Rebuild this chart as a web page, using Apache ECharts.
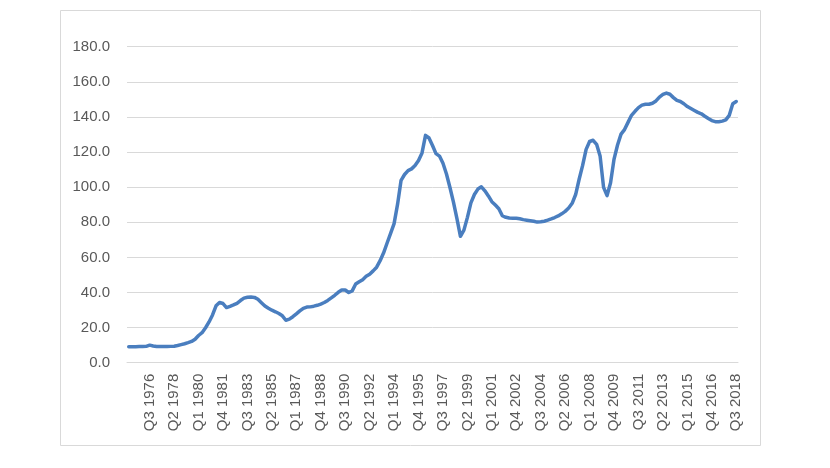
<!DOCTYPE html>
<html>
<head>
<meta charset="utf-8">
<script src="https://cdn.jsdelivr.net/npm/echarts@6/dist/echarts.min.js"></script>
<style>
html,body{margin:0;padding:0;background:#fff;}
#chart{width:830px;height:468px;}
</style>
</head>
<body>
<div id="chart"></div>
<script>
// Quarterly series, Q1 1975 .. Q3 2018
const startYear = 1975;
const startQuarter = 1;
const values = [
  9.1, 9.1, 9.1, 9.2, 9.2, 9.3, 10.0, 9.5, 9.2, 9.2,
  9.2, 9.2, 9.3, 9.4, 9.8, 10.3, 10.8, 11.4, 12.1, 13.4,
  15.5, 17.1, 19.9, 23.2, 27.2, 32.4, 34.3, 33.7, 31.4, 32.1,
  32.9, 33.8, 35.4, 36.8, 37.3, 37.4, 37.2, 36.1, 34.2, 32.3,
  31.0, 29.9, 29.0, 28.0, 26.7, 24.2, 24.8, 26.2, 27.8, 29.5,
  31.0, 31.7, 31.8, 32.2, 32.7, 33.4, 34.3, 35.5, 36.9, 38.4,
  40.1, 41.4, 41.4, 40.0, 40.9, 44.8, 46.1, 47.3, 49.2, 50.4,
  52.3, 54.4, 58.1, 62.6, 68.2, 73.7, 79.2, 90.3, 103.9, 107.2,
  109.4, 110.4, 112.3, 115.2, 119.5, 129.5, 128.0, 123.7, 119.1, 117.7,
  113.6, 107.5, 99.8, 91.5, 82.1, 72.0, 75.5, 82.8, 91.0, 95.8,
  98.9, 100.2, 97.9, 95.0, 91.7, 89.8, 87.7, 83.7, 82.8, 82.4,
  82.3, 82.3, 82.0, 81.5, 81.2, 80.9, 80.6, 80.1, 80.3, 80.6,
  81.2, 81.9, 82.7, 83.6, 84.8, 86.2, 88.1, 90.8, 95.8, 104.5,
  112.4, 121.5, 126.0, 126.7, 124.4, 117.8, 99.9, 95.2, 102.5, 116.0,
  124.0, 130.2, 132.8, 136.9, 140.9, 143.2, 145.3, 146.7, 147.2, 147.2,
  147.8, 149.1, 151.3, 152.8, 153.6, 152.9, 151.0, 149.4, 148.8, 147.5,
  145.9, 144.8, 143.7, 142.6, 141.8, 140.4, 139.1, 137.9, 137.3, 137.3,
  137.6, 138.3, 140.9, 147.5, 148.8
];
const yTicks = [0, 20, 40, 60, 80, 100, 120, 140, 160, 180];
const labelOffset = 6;   // first labelled category (Q3 1976)
const labelStep = 7;     // a label every 7 quarters

const categories = [];
for (let i = 0; i < values.length; i++) {
  const q = (startQuarter - 1 + i) % 4 + 1;
  const y = startYear + Math.floor((startQuarter - 1 + i) / 4);
  categories.push('Q' + q + ' ' + y);
}

const chart = echarts.init(document.getElementById('chart'), null, {renderer: 'canvas'});
const font = "'Liberation Sans', Arial, sans-serif";
chart.setOption({
  animation: false,
  backgroundColor: '#ffffff',
  graphic: [{
    type: 'rect',
    shape: {x: 60.5, y: 10.5, width: 700, height: 435},
    style: {fill: 'none', stroke: '#d9d9d9', lineWidth: 1},
    silent: true
  }],
  grid: {left: 127, right: 92, top: 46.7, bottom: 105.3, containLabel: false},
  xAxis: {
    type: 'category',
    data: categories,
    boundaryGap: true,
    axisLine: {show: true, lineStyle: {color: '#d9d9d9', width: 1}},
    axisTick: {show: false},
    splitLine: {show: false},
    axisLabel: {
      rotate: 90,
      margin: 11,
      color: '#595959',
      fontFamily: font,
      fontSize: 15,
      hideOverlap: false,
      interval: function (index) { return index >= labelOffset && (index - labelOffset) % labelStep === 0; }
    }
  },
  yAxis: {
    type: 'value',
    min: yTicks[0],
    max: yTicks[yTicks.length - 1],
    interval: yTicks[1] - yTicks[0],
    axisLine: {show: false},
    axisTick: {show: false},
    splitLine: {show: true, lineStyle: {color: '#d9d9d9', width: 1}},
    axisLabel: {
      margin: 17,
      color: '#595959',
      fontFamily: font,
      fontSize: 15,
      formatter: function (v) { return v.toFixed(1); }
    }
  },
  series: [{
    type: 'line',
    data: values,
    showSymbol: false,
    smooth: false,
    lineStyle: {color: '#4a7ebf', width: 3.5, cap: 'round', join: 'round'},
    itemStyle: {color: '#4a7ebf'}
  }]
});
</script>
</body>
</html>
